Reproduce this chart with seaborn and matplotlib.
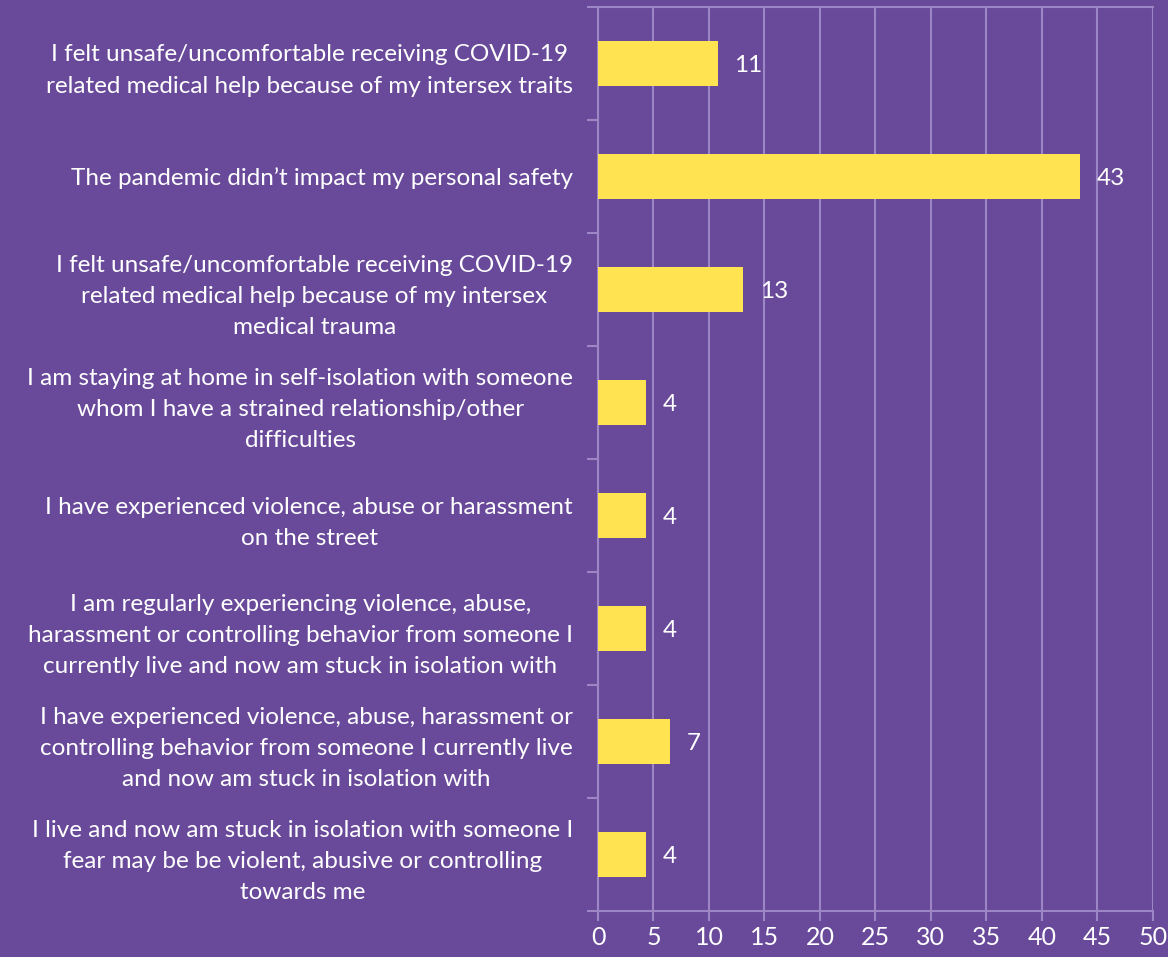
import matplotlib.pyplot as plt
import pandas as pd
import seaborn as sns

categories = [
    "I felt unsafe/uncomfortable receiving COVID-19\nrelated medical help because of my intersex traits",
    "The pandemic didn\u2019t impact my personal safety",
    "I felt unsafe/uncomfortable receiving COVID-19\nrelated medical help because of my intersex\nmedical trauma",
    "I am staying at home in self-isolation with someone\nwhom I have a strained relationship/other\ndifficulties",
    "I have experienced violence, abuse or harassment\non the street",
    "I am regularly experiencing violence, abuse,\nharassment or controlling behavior from someone I\ncurrently live and now am stuck in isolation with",
    "I have experienced violence, abuse, harassment or\ncontrolling behavior from someone I currently live\nand now am stuck in isolation with",
    "I live and now am stuck in isolation with someone I\nfear may be be violent, abusive or controlling\ntowards me",
]
bar_values = [10.8, 43.4, 13.1, 4.3, 4.3, 4.3, 6.5, 4.3]
value_labels = ["11", "43", "13", "4", "4", "4", "7", "4"]
x_ticks = [0, 5, 10, 15, 20, 25, 30, 35, 40, 45, 50]

df = pd.DataFrame({"answer": categories, "value": bar_values})

purple = "#694a9a"
yellow = "#ffe350"
grid_col = "#9c86c6"

sns.set_theme(style="white")
plt.rcParams["font.family"] = ["Lato", "DejaVu Sans"]

fig = plt.figure(figsize=(11.68, 9.57), dpi=100, facecolor=purple)
ax = fig.add_axes([0.512, 0.048, 0.475, 0.9447])
ax.set_facecolor(purple)

sns.barplot(data=df, y="answer", x="value", orient="h", color=yellow,
            width=0.4, saturation=1, linewidth=0, ax=ax, zorder=3)

texts = ax.bar_label(ax.containers[0], labels=value_labels, padding=12,
                     color="white", fontsize=17.5)
for t in texts:
    t.set_verticalalignment("center_baseline")

ax.set_xlim(0, 50)
ax.set_ylim(len(categories) - 0.5, -0.5)
ax.set_xticks(x_ticks)
ax.set_xticklabels([str(t) for t in x_ticks], fontsize=18, color="white")
ax.xaxis.grid(True, color=grid_col, linewidth=1.5, zorder=0)
ax.yaxis.grid(False)
ax.set_axisbelow(True)

# boundaries between categories get the small tick marks
ax.set_yticks([i - 0.5 for i in range(len(categories) + 1)], minor=True)
ax.set_yticks(range(len(categories)))
ax.set_yticklabels(categories, fontsize=17.5, color="white", multialignment="center")
for lbl in ax.get_yticklabels():
    lbl.set_linespacing(1.6)
ax.tick_params(axis="y", which="major", length=0, pad=18)
ax.tick_params(axis="y", which="minor", length=8, width=1.5, color=grid_col, left=True)
ax.tick_params(axis="x", length=7, width=1.5, color=grid_col, bottom=True, pad=4)

for side in ["top", "bottom", "left"]:
    ax.spines[side].set_visible(True)
    ax.spines[side].set_color(grid_col)
    ax.spines[side].set_linewidth(1.5)
ax.spines["right"].set_visible(False)

ax.set_xlabel("")
ax.set_ylabel("")

fig.savefig("out.png", dpi=100, facecolor=purple)
